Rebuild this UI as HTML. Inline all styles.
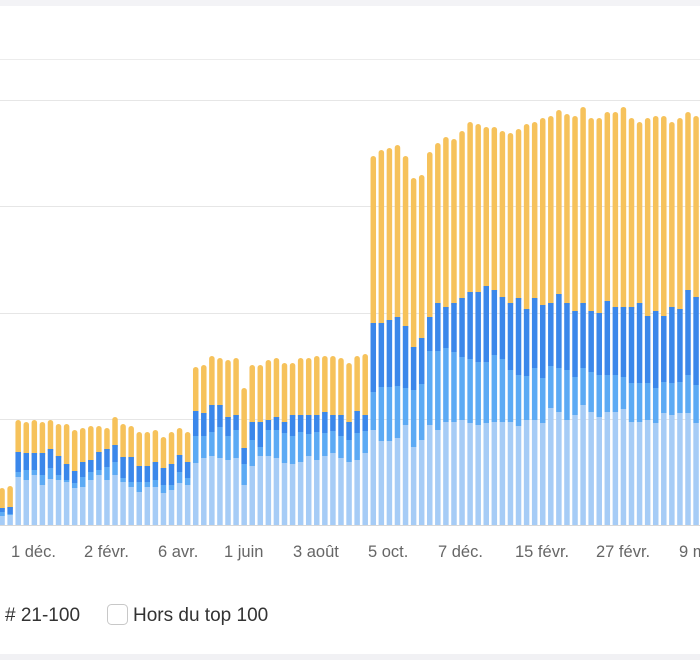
<!DOCTYPE html>
<html><head><meta charset="utf-8"><style>
html,body{margin:0;padding:0;background:#fff;width:700px;height:660px;overflow:hidden;font-family:"Liberation Sans",sans-serif}
</style></head><body>
<svg id="s" width="700" height="660" xmlns="http://www.w3.org/2000/svg" style="position:absolute;left:0;top:0">
<rect x="0" y="0" width="700" height="6" fill="#f3f3f6"/>
<rect x="0" y="654" width="700" height="6" fill="#f1f1f4"/>
<line x1="0" y1="59.5" x2="700" y2="59.5" stroke="#ececec"/>
<line x1="0" y1="100.5" x2="700" y2="100.5" stroke="#e6e6e6"/>
<line x1="0" y1="206.5" x2="700" y2="206.5" stroke="#e6e6e6"/>
<line x1="0" y1="313.5" x2="700" y2="313.5" stroke="#e6e6e6"/>
<line x1="0" y1="419.5" x2="700" y2="419.5" stroke="#e6e6e6"/>
<g id="bars"></g>
<line x1="0" y1="525.5" x2="700" y2="525.5" stroke="#d8d8d8"/>
<g font-size="16.5" fill="#666" font-family="Liberation Sans, sans-serif">
<text x="11" y="557">1 déc.</text>
<text x="84" y="557">2 févr.</text>
<text x="158" y="557">6 avr.</text>
<text x="224" y="557">1 juin</text>
<text x="293" y="557">3 août</text>
<text x="368" y="557">5 oct.</text>
<text x="438" y="557">7 déc.</text>
<text x="515" y="557">15 févr.</text>
<text x="596" y="557">27 févr.</text>
<text x="679" y="557">9 mars</text>
</g>
<g font-size="19" fill="#333" font-family="Liberation Sans, sans-serif">
<text x="5" y="621">#&#160;21-100</text>
<rect x="107.5" y="604.5" width="20" height="20" rx="4" fill="#fff" stroke="#c8c8c8"/>
<text x="133" y="621">Hors du top 100</text>
</g>
</svg>
<script>
var d=[
[488,508,512,516],[486,507,514,515],
[420,452,472,477],[422,453,470,480],[420,453,470,475],[422,453,475,485],[420,449,468,479],[424,456,475,480],[424,464,480,482],[430,471,483,488],[428,462,477,487],[426,460,472,480],[426,452,470,475],[428,449,467,480],[417,445,462,475],[424,457,478,482],[426,457,482,487],[432,466,482,492],[432,466,482,487],[430,462,480,487],[437,468,485,493],[432,464,485,490],[428,455,472,483],[432,462,478,485],
[367,411,436,463],[365,413,436,458],[356,405,432,456],[358,405,427,458],[360,417,436,460],[358,415,430,458],[388,448,464,485],[365,422,440,466],[365,422,447,456],[360,420,430,456],[358,417,430,458],[363,422,433,463],[363,415,436,464],[358,415,432,462],[358,415,434,456],[356,415,432,460],[356,412,433,456],[356,415,431,453],[358,415,436,458],[363,422,440,462],[356,411,433,460],[354,415,431,453],
[156,323,392,430],[150,323,387,441],[148,320,387,441],[145,317,386,438],[156,326,388,425],[178,347,390,447],[175,338,384,440],[152,317,351,425],[143,303,351,430],
[137,307,348,422],[139,303,352,422],[131,298,357,420],[122,292,359,423],[124,292,362,425],[127,286,362,423],[127,290,355,422],[131,297,359,422],[133,303,370,422],[129,298,375,426],[124,309,376,420],[122,298,368,420],[118,305,378,423],[116,303,366,408],[110,294,368,412],[114,303,370,420],[116,311,377,415],[107,303,368,405],[118,311,372,412],[118,313,375,417],[112,301,375,412],[112,307,375,412],[107,307,377,409],[118,307,383,422],[122,303,383,422],[118,316,383,420],[116,311,388,423],[116,316,382,413],[122,307,383,415],[118,309,382,413],[112,290,375,413],[116,297,385,423]
];
var g=document.getElementById('bars'),B=525,h='';
function r(x,y,w,hh,c,rx){return '<rect x="'+x+'" y="'+y+'" width="'+w+'" height="'+hh+'" fill="'+c+'"'+(rx?' rx="'+rx+'"':'')+'/>';}
for(var i=0;i<d.length;i++){var x=(8.07*i-0.7).toFixed(2),v=d[i],w=5.5;
h+=r(x,v[0],w,(v[1]-v[0]+4),'#f6c25b',2.7);
h+=r(x,v[1],w,v[2]-v[1],'#3b87ea');
h+=r(x,v[2],w,v[3]-v[2],'#5caaf4');
h+=r(x,v[3],w,B-v[3],'#a6ccf6');}
g.innerHTML=h;
</script>
</body></html>
